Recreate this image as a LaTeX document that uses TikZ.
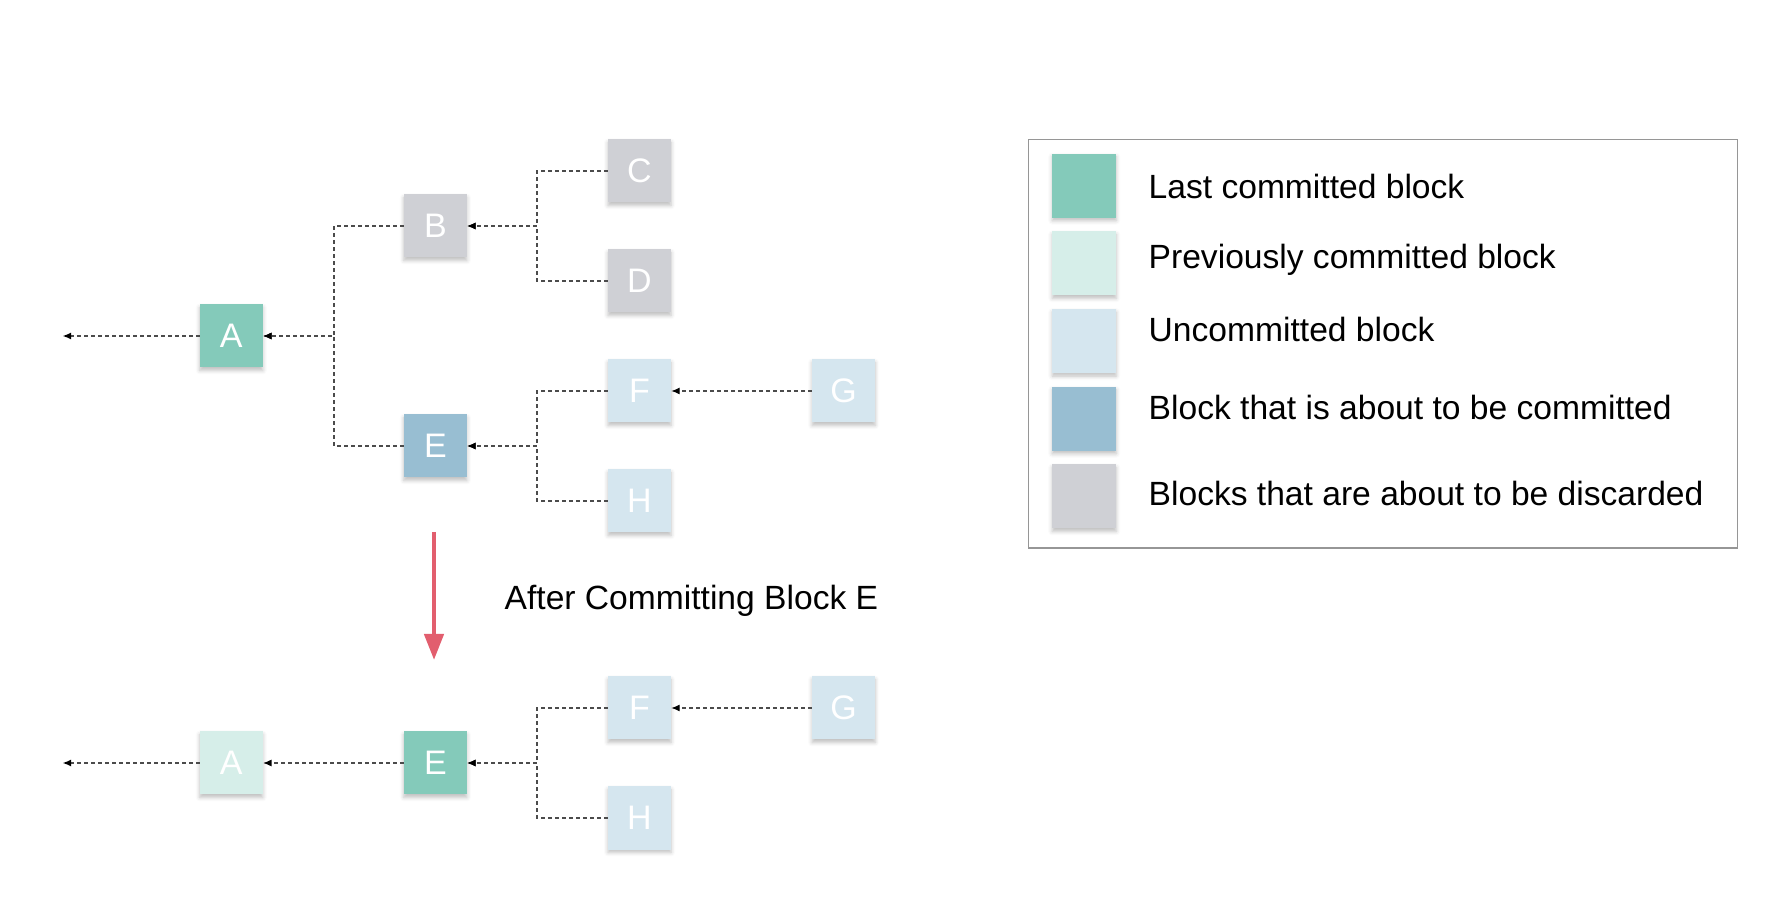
\documentclass[tikz,border=0pt]{standalone}
\usepackage{fontspec}
\setmainfont{Liberation Sans}
\usetikzlibrary{positioning, arrows.meta, shadows.blur}
\definecolor{lastcol}{RGB}{132,202,186}
\definecolor{prevcol}{RGB}{214,238,233}
\definecolor{uncomcol}{RGB}{213,230,239}
\definecolor{tocomcol}{RGB}{152,190,210}
\definecolor{dropcol}{RGB}{207,208,213}
\definecolor{linkcol}{RGB}{75,75,75}
\definecolor{movecol}{RGB}{226,94,110}
\definecolor{framecol}{RGB}{150,150,150}
\tikzset{
x=1bp, y=1bp, % one unit is one pixel of the picture
node distance=140.7bp, % gap between two columns of blocks
block/.style={minimum size=63bp, inner sep=0pt, text=white,
  font=\fontsize{34bp}{40bp}\selectfont,
  blur shadow={shadow xshift=0pt, shadow yshift=-3bp, shadow blur radius=4bp, shadow opacity=25}},
last/.style={block, fill=lastcol}, % last committed block
prev/.style={block, fill=prevcol}, % previously committed block
uncom/.style={block, fill=uncomcol}, % uncommitted block
tocom/.style={block, fill=tocomcol}, % about to be committed
drop/.style={block, fill=dropcol}, % about to be discarded
link/.style={draw=linkcol, line width=1.3bp, dash pattern=on 4bp off 3bp,
  -{Latex[length=8.5bp, width=7bp, black]}},
caption/.style={inner sep=0pt, anchor=base west, font=\fontsize{33.6bp}{40bp}\selectfont},
}
\begin{document}
\begin{tikzpicture}
    \useasboundingbox (0,0) rectangle (1784,916);
    % before committing
    \node[last] (A) at (231.3,580) {A};
    \node[drop, right=of A, yshift=110bp] (B) {B};
    \node[tocom, right=of A, yshift=-110bp] (E) {E};
    \node[drop, right=of B, yshift=55bp] (C) {C};
    \node[drop, right=of B, yshift=-55bp] (D) {D};
    \node[uncom, right=of E, yshift=55bp] (F) {F};
    \node[uncom, right=of E, yshift=-55bp] (H) {H};
    \node[uncom, right=of F] (G) {G};
    \coordinate[left=137bp of A] (pA);
    \coordinate[right=71bp of A] (jA);
    \coordinate[right=70bp of B] (jB);
    \coordinate[right=70bp of E] (jE);
    \draw[link] (B.west) -| (jA) -- (A.east);
    \draw[link] (E.west) -| (jA) -- (A.east);
    \draw[link] (C.west) -| (jB) -- (B.east);
    \draw[link] (D.west) -| (jB) -- (B.east);
    \draw[link] (F.west) -| (jE) -- (E.east);
    \draw[link] (H.west) -| (jE) -- (E.east);
    \draw[link] (G) -- (F);
    \draw[link] (A) -- (pA);

    % the move
    \coordinate (mtop) at (434,384);
    \coordinate (mtip) at (434,256);
    \draw[movecol, line width=4.5bp, -{Triangle[length=26bp, width=19bp]}] (mtop) -- (mtip);
    \node[caption] (after) at (504.5,306) {After Committing Block E};

    % after committing
    \node[prev] (A2) at (231.3,153) {A};
    \node[last, right=of A2] (E2) {E};
    \node[uncom, right=of E2, yshift=55bp] (F2) {F};
    \node[uncom, right=of E2, yshift=-55bp] (H2) {H};
    \node[uncom, right=of F2] (G2) {G};
    \coordinate[left=137bp of A2] (pA2);
    \coordinate[right=70bp of E2] (jE2);
    \draw[link] (F2.west) -| (jE2) -- (E2.east);
    \draw[link] (H2.west) -| (jE2) -- (E2.east);
    \draw[link] (G2) -- (F2);
    \draw[link] (E2) -- (A2);
    \draw[link] (A2) -- (pA2);

    % legend
    \node[draw=framecol, line width=1.3bp, minimum width=709.4bp, minimum height=408.7bp, inner sep=0pt] (key) at (1383,572.3) {};
    \node[last, minimum size=64bp] (k1) at (1084.2,730.3) {};
    \node[prev, minimum size=64bp, below=13.3bp of k1] (k2) {};
    \node[uncom, minimum size=64bp, below=13.3bp of k2] (k3) {};
    \node[tocom, minimum size=64bp, below=13.3bp of k3] (k4) {};
    \node[drop, minimum size=64bp, below=13.3bp of k4] (k5) {};
    \node[caption] (t1) at (1148.5,717.7) {Last committed block};
    \node[caption] (t2) at (1148.5,647.7) {Previously committed block};
    \node[caption] (t3) at (1148.5,574.3) {Uncommitted block};
    \node[caption] (t4) at (1148.5,496.7) {Block that is about to be committed};
    \node[caption] (t5) at (1148.5,410) {Blocks that are about to be discarded};
\end{tikzpicture}
\end{document}
